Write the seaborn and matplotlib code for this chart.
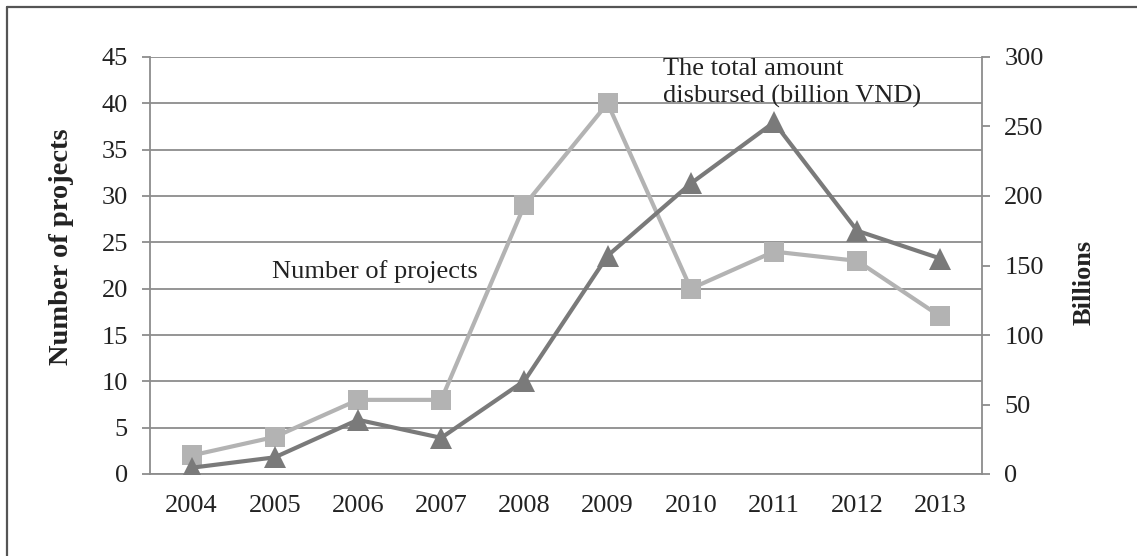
import matplotlib
matplotlib.use("Agg")
import matplotlib.pyplot as plt
import seaborn as sns
import pandas as pd
from matplotlib.lines import Line2D

years = [2004, 2005, 2006, 2007, 2008, 2009, 2010, 2011, 2012, 2013]
num_projects = [2, 4, 8, 8, 29, 40, 20, 24, 23, 17]
amount_billion = [4.5, 12, 39, 26, 67, 157, 209, 253, 175, 155]

sns.set_style("white")
plt.rcParams['font.family'] = ['Liberation Serif', 'DejaVu Serif']

df = pd.DataFrame({"year": years, "projects": num_projects, "amount": amount_billion})

W, H = 1137, 556
fig = plt.figure(figsize=(W / 100, H / 100), dpi=100)
ax = fig.add_axes([150 / W, (H - 474) / H, 832 / W, 417 / H])
ax2 = ax.twinx()

gridc = "#8c8c8c"
light = "#b3b3b3"
dark = "#7a7a7a"
txtc = "#222222"
fs = 19

sns.lineplot(data=df, x="year", y="projects", ax=ax, color=light, lw=3.0,
             marker="s", markersize=14, markeredgewidth=0, zorder=3)
sns.lineplot(data=df, x="year", y="amount", ax=ax2, color=dark, lw=3.0,
             marker="^", markersize=16, markeredgewidth=0, zorder=3)

ax.set_xlim(2003.5, 2013.5)
ax.set_ylim(0, 45)
ax2.set_ylim(0, 300)
ax.set_yticks(range(0, 46, 5))
ax2.set_yticks(range(0, 301, 50))

# x ticks: marks at category boundaries, labels at centers
ax.set_xticks([y - 0.5 for y in years] + [years[-1] + 0.5])
ax.set_xticklabels([])
ax.set_xticks(years, minor=True)
ax.set_xticklabels([str(y) for y in years], minor=True)
ax.tick_params(axis="x", which="major", length=7, width=1.3, color=gridc, direction="out")
ax.tick_params(axis="x", which="minor", length=0, labelsize=fs, pad=15, labelcolor=txtc)
ax.tick_params(axis="y", length=6, width=1.3, color=gridc, labelsize=fs, pad=10,
               left=True, labelcolor=txtc)
ax2.tick_params(axis="y", length=6, width=1.3, color=gridc, labelsize=fs, pad=10,
                right=True, labelcolor=txtc)

ax.yaxis.grid(True, color=gridc, lw=1.3)
ax.set_axisbelow(True)

for a in (ax, ax2):
    for s in a.spines.values():
        s.set_visible(False)
for a, side in ((ax, "left"), (ax, "bottom"), (ax2, "right")):
    a.spines[side].set_visible(True)
    a.spines[side].set_color(gridc)
    a.spines[side].set_linewidth(1.3)

ax.set_xlabel("")
ax.set_ylabel("")
ax2.set_ylabel("")
fig.text(62 / W, (H - 247) / H, "Number of projects", rotation=90, ha="center",
         va="center", fontsize=20.5, fontweight="bold", color=txtc)
fig.text(1084 / W, (H - 282) / H, "Billions", rotation=90, ha="center",
         va="center", fontsize=fs, fontweight="bold", color=txtc)

ax.text(2004.97, 21.15, "Number of projects", fontsize=fs, va="baseline",
        ha="left", color=txtc)
ax.text(2009.67, 43.06, "The total amount", fontsize=fs, va="baseline",
        ha="left", color=txtc, clip_on=False)
ax.text(2009.67, 40.03, "disbursed (billion VND)", fontsize=fs, va="baseline",
        ha="left", color=txtc)

# outer frame (only top and left edges visible in the reference)
fig.add_artist(Line2D([7 / W, 1.0], [1 - 7 / H, 1 - 7 / H], transform=fig.transFigure,
                      color="#555555", lw=1.6))
fig.add_artist(Line2D([7 / W, 7 / W], [0.0, 1 - 7 / H], transform=fig.transFigure,
                      color="#555555", lw=1.6))

fig.savefig("out.png", dpi=100)
